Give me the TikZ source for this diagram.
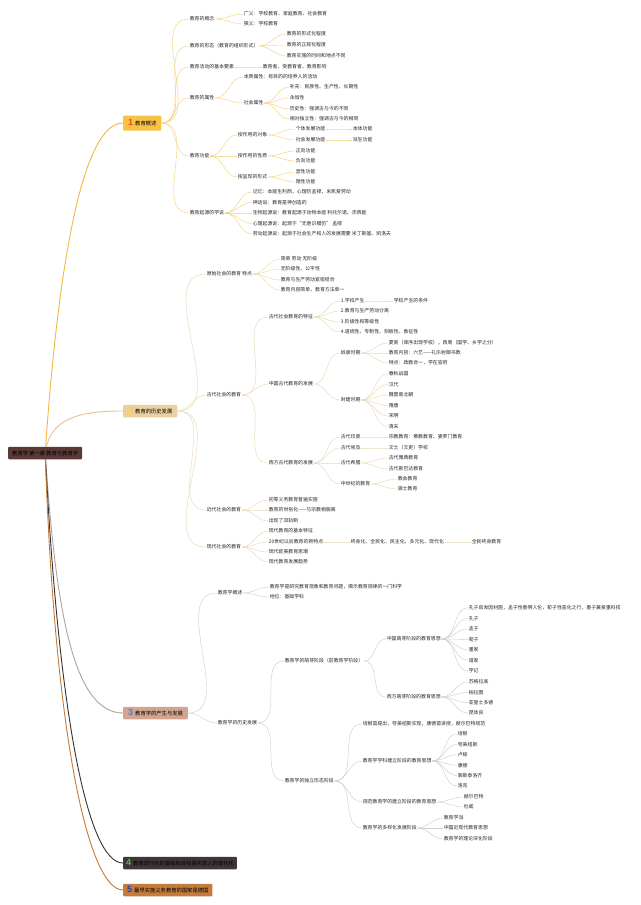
\documentclass[tikz,border=0pt]{standalone}
\usepackage{fontspec}
\setmainfont{Noto Sans CJK SC}
\newfontfamily\numfont{Liberation Sans}
\usetikzlibrary{arrows.meta}

\definecolor{rootc}{HTML}{5A3A37}
\definecolor{boxa}{HTML}{F8C246}
\definecolor{boxb}{HTML}{ECCF9F}
\definecolor{boxc}{HTML}{D3A58E}
\definecolor{boxd}{HTML}{3E3638}
\definecolor{boxe}{HTML}{C57B3C}
\definecolor{lnA}{HTML}{F3B83F}
\definecolor{lnB}{HTML}{E6C38C}
\definecolor{lnC}{HTML}{B3A29A}
\definecolor{lnD}{HTML}{38322F}
\definecolor{lnE}{HTML}{C27A3A}
\definecolor{subA}{HTML}{F6D17E}
\definecolor{subB}{HTML}{E9D9B4}
\definecolor{subC}{HTML}{CFCFCF}
\definecolor{numA}{HTML}{E6501B}
\definecolor{numB}{HTML}{F7D14B}
\definecolor{numC}{HTML}{3B86D6}
\definecolor{numD}{HTML}{48C046}
\definecolor{numE}{HTML}{2A3F9E}

\newcommand\bnum[2]{{\numfont\bfseries\fontsize{9}{9}\selectfont\textcolor{#1}{#2}}\hspace{2pt}}

\begin{document}
\begin{tikzpicture}[
  x=1pt, y=-1pt,
  tx/.style={anchor=west, inner sep=0.6pt, text=black!85,
             font=\fontsize{4.9}{5.5}\selectfont},
  bx/.style={anchor=west, rounded corners=1pt, inner xsep=5pt, inner ysep=1.5pt,
             minimum height=12.5pt, font=\fontsize{5.3}{6}\selectfont},
  cv/.style={out=0, in=180},
  la/.style={draw=subA, line width=0.45pt},
  lb/.style={draw=subB, line width=0.45pt},
  lc/.style={draw=subC, line width=0.45pt},
  mb/.style={line width=0.9pt},
]
\useasboundingbox (0,0) rectangle (640,905);
\fill[white] (0,0) rectangle (640,905);

% root and main branches
\node[bx, fill=rootc, text=black, inner xsep=4pt] (root) at (8,453) {教育学 第一章 教育与教育学};
\node[bx, fill=boxa, minimum height=15pt] (ba) at (123,123) {\bnum{numA}{1}教育概述};
\node[bx, fill=boxb] (bb) at (123,411) {\bnum{numB}{2}教育的历史发展};
\node[bx, fill=boxc] (bc) at (123,713) {\bnum{numC}{3}教育学的产生与发展};
\node[bx, fill=boxd, inner xsep=3pt] (bd) at (123,863) {\bnum{numD}{4}教育现代化的基础和目标是实现人的现代化};
\node[bx, fill=boxe, inner xsep=4pt] (be) at (123,890) {\bnum{numE}{5}最早实施义务教育的国家是德国};

\draw[mb, draw=lnA] (root) to[out=86, in=180, out distance=150pt, in distance=45pt] (ba);
\draw[mb, draw=lnB] (root) to[out=78, in=180] (bb);
\draw[mb, draw=lnC] (root) to[out=-86, in=180, out distance=150pt, in distance=50pt] (bc);
\draw[mb, draw=lnD] (root) to[out=-87, in=180, out distance=260pt, in distance=35pt] (bd);
\draw[mb, draw=lnE] (root) to[out=-88, in=180, out distance=275pt, in distance=35pt] (be);

% ---- 1 教育概述 ----
\node[tx] (a1) at (189,19) {教育的概念};
\node[tx] (a11) at (243,14) {广义：学校教育、家庭教育、社会教育};
\node[tx] (a12) at (243,24) {狭义：学校教育};
\node[tx] (a2) at (189,46) {教育的形态（教育的组织形式）};
\node[tx] (a21) at (286,34) {教育的形式化程度};
\node[tx] (a22) at (286,45) {教育的正规化程度};
\node[tx] (a23) at (286,56) {教育实施的时间和地点不同};
\node[tx] (a3) at (189,67) {教育活动的基本要素};
\node[tx] (a31) at (262,67) {教育者、受教育者、教育影响};
\node[tx] (a4) at (189,98) {教育的属性};
\node[tx] (a41) at (243,77) {本质属性：有目的的培养人的活动};
\node[tx] (a42) at (243,103) {社会属性};
\node[tx] (a421) at (289,87) {补充：民族性、生产性、长期性};
\node[tx] (a422) at (289,98) {永恒性};
\node[tx] (a423) at (289,109) {历史性：强调古与今的不同};
\node[tx] (a424) at (289,119) {相对独立性：强调古与今的相同};
\node[tx] (a5) at (189,156) {教育功能};
\node[tx] (a51) at (237,135) {按作用的对象};
\node[tx] (a511) at (295,129) {个体发展功能};
\node[tx] (a5111) at (352,129) {本体功能};
\node[tx] (a512) at (295,140) {社会发展功能};
\node[tx] (a5121) at (352,140) {派生功能};
\node[tx] (a52) at (237,156) {按作用的性质};
\node[tx] (a521) at (295,151) {正向功能};
\node[tx] (a522) at (295,161) {负向功能};
\node[tx] (a53) at (237,177) {按呈现的形式};
\node[tx] (a531) at (295,172) {显性功能};
\node[tx] (a532) at (295,182) {隐性功能};
\node[tx] (a6) at (189,213) {教育起源的学说};
\foreach \t [count=\i] in {记忆：本能生利西，心理仿孟禄，米凯爱劳动,
    神话说：教育是神创造的,
    生物起源说：教育起源于动物本能 利托尔诺、沛西能,
    心理起源说：起源于“无意识模仿” 孟禄,
    劳动起源说：起源于社会生产和人的发展需要 米丁斯基、凯洛夫}
  \node[tx] (a6\i) at (252,{181.5+10.5*\i}) {\t};

\foreach \c in {a1,a2,a3,a4,a5,a6} \draw[la] (ba) to[cv] (\c);
\foreach \p/\c in {a1/a11,a1/a12,a2/a21,a2/a22,a2/a23,a3/a31,a4/a41,a4/a42,
    a42/a421,a42/a422,a42/a423,a42/a424,a5/a51,a5/a52,a5/a53,a51/a511,a51/a512,
    a511/a5111,a512/a5121,a52/a521,a52/a522,a53/a531,a53/a532,
    a6/a61,a6/a62,a6/a63,a6/a64,a6/a65}
  \draw[la] (\p) to[cv] (\c);

% ---- 2 教育的历史发展 ----
\node[tx] (b1) at (206,274) {原始社会的教育 特点};
\node[tx] (b11) at (280,259) {简单 劳动 无阶级};
\node[tx] (b12) at (280,269) {无阶级性、公平性};
\node[tx] (b13) at (280,280) {教育与生产劳动紧密结合};
\node[tx] (b14) at (280,290) {教育内容简单，教育方法单一};
\node[tx] (b2) at (206,395) {古代社会的教育};
\node[tx] (b21) at (268,317) {古代社会教育的特征};
\node[tx] (b211) at (340,301) {1.学校产生};
\node[tx] (b2111) at (393,301) {学校产生的条件};
\node[tx] (b212) at (340,311) {2.教育与生产劳动分离};
\node[tx] (b213) at (340,322) {3.阶级性和等级性};
\node[tx] (b214) at (340,332) {4.道统性、专制性、刻板性、象征性};
\node[tx] (b22) at (268,384) {中国古代教育的发展};
\node[tx] (b221) at (340,353) {奴隶时期};
\node[tx] (b2211) at (388,343) {夏商（庠序出现学校），西周（国学、乡学之分）};
\node[tx] (b2212) at (388,353) {教育内容：六艺——礼乐射御书数};
\node[tx] (b2213) at (388,363) {特点：政教合一，学在官府};
\node[tx] (b222) at (340,400) {封建时期};
\foreach \t [count=\i] in {春秋战国,汉代,魏晋南北朝,隋唐,宋明,清末}
  \node[tx] (b222\i) at (388,{363.5+10.5*\i}) {\t};
\node[tx] (b23) at (268,463) {西方古代教育的发展};
\node[tx] (b231) at (340,437) {古代印度};
\node[tx] (b2311) at (388,437) {宗教教育：佛教教育、婆罗门教育};
\node[tx] (b232) at (340,448) {古代埃及};
\node[tx] (b2321) at (388,448) {文士（文吏）学校};
\node[tx] (b233) at (340,463) {古代希腊};
\node[tx] (b2331) at (388,458) {古代雅典教育};
\node[tx] (b2332) at (388,469) {古代斯巴达教育};
\node[tx] (b234) at (340,484) {中世纪的教育};
\node[tx] (b2341) at (397,479) {教会教育};
\node[tx] (b2342) at (397,489) {骑士教育};
\node[tx] (b3) at (206,510) {近代社会的教育};
\node[tx] (b31) at (268,500) {初等义务教育普遍实施};
\node[tx] (b32) at (268,510) {教育的世俗化——与宗教相脱离};
\node[tx] (b33) at (268,521) {出现了双轨制};
\node[tx] (b4) at (206,547) {现代社会的教育};
\node[tx] (b41) at (268,531) {现代教育的基本特征};
\node[tx] (b42) at (268,542) {20世纪以后教育的新特点};
\node[tx] (b421) at (350,542) {终身化、全民化、民主化、多元化、现代化};
\node[tx] (b4211) at (471,542) {全民终身教育};
\node[tx] (b43) at (268,552) {现代欧美教育思潮};
\node[tx] (b44) at (268,562) {现代教育发展趋势};

\foreach \c in {b1,b2,b3,b4} \draw[lb] (bb) to[cv] (\c);
\foreach \p/\c in {b1/b11,b1/b12,b1/b13,b1/b14,b2/b21,b2/b22,b2/b23,
    b21/b211,b211/b2111,b21/b212,b21/b213,b21/b214,b22/b221,b22/b222,
    b221/b2211,b221/b2212,b221/b2213,b23/b231,b23/b232,b23/b233,b23/b234,
    b231/b2311,b232/b2321,b233/b2331,b233/b2332,b234/b2341,b234/b2342,
    b3/b31,b3/b32,b3/b33,b4/b41,b4/b42,b4/b43,b4/b44,b42/b421,b421/b4211}
  \draw[lb] (\p) to[cv] (\c);
\foreach \i in {1,...,6} \draw[lb] (b222) to[cv] (b222\i);

% ---- 3 教育学的产生与发展 ----
\node[tx] (c1) at (217,593) {教育学概述};
\node[tx] (c11) at (269,587) {教育学是研究教育现象和教育问题，揭示教育规律的一门科学};
\node[tx] (c12) at (269,597) {地位：基础学科};
\node[tx] (c2) at (217,723) {教育学的历史发展};
\node[tx] (c21) at (284,661) {教育学的萌芽阶段（前教育学阶段）};
\node[tx] (c211) at (386,639) {中国萌芽阶段的教育思想};
\foreach \t [count=\i] in {孔子启发因材施，孟子性善明人伦，荀子性恶化之行，墨子兼爱重科技,
    孔子,孟子,荀子,墨家,道家,学记}
  \node[tx] (c211\i) at (468,{597.55+10.45*\i}) {\t};
\node[tx] (c212) at (386,697) {西方萌芽阶段的教育思想};
\foreach \t [count=\i] in {苏格拉底,柏拉图,亚里士多德,昆体良}
  \node[tx] (c212\i) at (468,{671.5+10.4*\i}) {\t};
\node[tx] (c22) at (284,781) {教育学的独立形态阶段};
\node[tx] (c221) at (362,724) {培根首提出，夸美纽斯实现，康德首讲授，赫尔巴特规范};
\node[tx] (c222) at (362,761) {教育学学科建立阶段的教育思想};
\foreach \t [count=\i] in {培根,夸美纽斯,卢梭,康德,裴斯泰洛齐,洛克}
  \node[tx] (c222\i) at (457,{723.6+10.4*\i}) {\t};
\node[tx] (c223) at (362,802) {规范教育学的建立阶段的教育思想};
\node[tx] (c2231) at (463,797) {赫尔巴特};
\node[tx] (c2232) at (463,807) {杜威};
\node[tx] (c224) at (362,828) {教育学的多样化发展阶段};
\node[tx] (c2241) at (443,818) {教育学派};
\node[tx] (c2242) at (443,828) {中国近现代教育思想};
\node[tx] (c2243) at (443,839) {教育学的理论深化阶段};

\foreach \c in {c1,c2} \draw[lc] (bc) to[cv] (\c);
\foreach \p/\c in {c1/c11,c1/c12,c2/c21,c2/c22,c21/c211,c21/c212,
    c22/c221,c22/c222,c22/c223,c22/c224,c223/c2231,c223/c2232,
    c224/c2241,c224/c2242,c224/c2243}
  \draw[lc] (\p) to[cv] (\c);
\foreach \i in {1,...,7} \draw[lc] (c211) to[cv] (c211\i);
\foreach \i in {1,...,4} \draw[lc] (c212) to[cv] (c212\i);
\foreach \i in {1,...,6} \draw[lc] (c222) to[cv] (c222\i);
\end{tikzpicture}
\end{document}
